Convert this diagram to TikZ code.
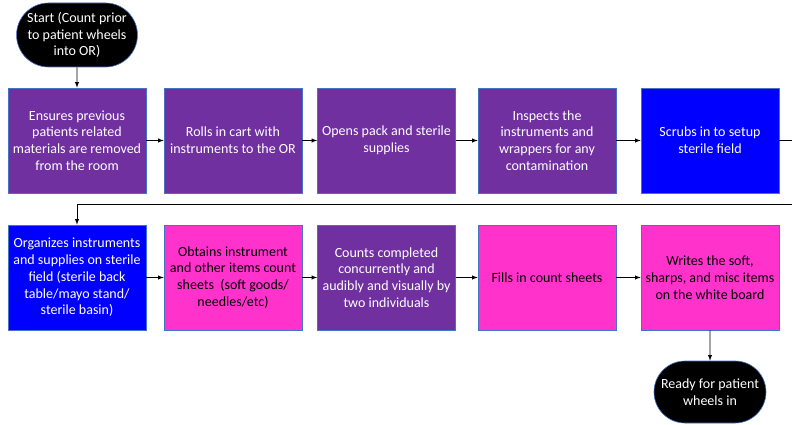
\documentclass[tikz,border=0pt]{standalone}
\usepackage{fontspec}
\setmainfont{Carlito}
\usetikzlibrary{arrows}
\usetikzlibrary{shapes.misc}
\definecolor{stepPurple}{RGB}{112,48,160}
\definecolor{stepBlue}{RGB}{0,0,255}
\definecolor{stepPink}{RGB}{255,51,204}
\definecolor{edgeBlue}{RGB}{68,114,196}

\begin{document}
\begin{tikzpicture}[x=1pt,y=-1pt]
\tikzstyle{boxStyle}=[draw=edgeBlue, line width=0.6pt, minimum width=138pt, minimum height=105pt, inner sep=1pt, align=center, font=\fontsize{14}{16.8}\selectfont]
\tikzstyle{purpleStyle}=[boxStyle, fill=stepPurple, text=white]
\tikzstyle{blueStyle}=[boxStyle, fill=stepBlue, text=white]
\tikzstyle{pinkStyle}=[boxStyle, fill=stepPink, text=black]
\tikzstyle{terminalStyle}=[rounded rectangle, draw=edgeBlue, line width=0.6pt, fill=black, text=white, minimum width=114pt, minimum height=64pt, inner sep=1pt, align=center, font=\fontsize{14}{16.8}\selectfont]
\tikzstyle{EdgeStyle}=[-latex, line width=0.9pt, color=black]
\useasboundingbox (0,0) rectangle (792,425);
% first row
\node[terminalStyle] (v10) at (77,35) {Start (Count prior\\to patient wheels\\into OR)};
\node[purpleStyle] (v0) at (77,140.5) {Ensures previous\\patients related\\materials are removed\\from the room};
\node[purpleStyle] (v1) at (233,140.5) {Rolls in cart with\\instruments to the OR};
\node[purpleStyle] (v2) at (386.5,140.5) {Opens pack and sterile\\supplies};
\node[purpleStyle] (v3) at (547,140.5) {Inspects the\\instruments and\\wrappers for any\\contamination};
\node[blueStyle] (v4) at (710,140.5) {Scrubs in to setup\\sterile field};
% second row
\node[blueStyle] (v5) at (77,277.5) {Organizes instruments\\and supplies on sterile\\field (sterile back\\table/mayo stand/\\sterile basin)};
\node[pinkStyle] (v6) at (233,277.5) {Obtains instrument\\and other items count\\sheets~ (soft goods/\\needles/etc)};
\node[purpleStyle] (v7) at (386.5,277.5) {Counts completed\\concurrently and\\audibly and visually by\\two individuals};
\node[pinkStyle] (v8) at (547,277.5) {Fills in count sheets};
\node[pinkStyle] (v9) at (710,277.5) {Writes the soft,\\sharps, and misc items\\on the white board};
\node[terminalStyle, minimum height=62pt] (v11) at (710,392) {Ready for patient\\wheels in};
\coordinate (c0) at (800,140.5);
\coordinate (c1) at (800,204);
\draw[EdgeStyle] (v10) -- (v0);
\draw[EdgeStyle] (v0) -- (v1);
\draw[EdgeStyle] (v1) -- (v2);
\draw[EdgeStyle] (v2) -- (v3);
\draw[EdgeStyle] (v3) -- (v4);
\draw[EdgeStyle] (v4.east) -- (c0) -- (c1) -| (v5.north);
\draw[EdgeStyle] (v5) -- (v6);
\draw[EdgeStyle] (v6) -- (v7);
\draw[EdgeStyle] (v7) -- (v8);
\draw[EdgeStyle] (v8) -- (v9);
\draw[EdgeStyle] (v9) -- (v11);
\end{tikzpicture}
\end{document}
